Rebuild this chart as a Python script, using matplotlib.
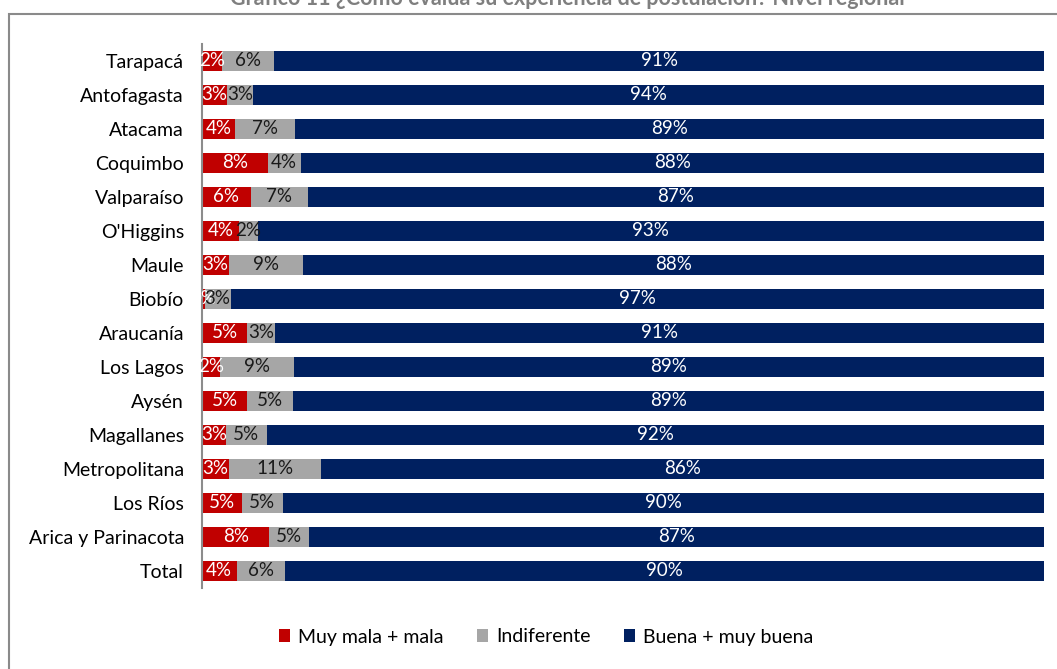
import matplotlib
matplotlib.use("Agg")
import matplotlib.pyplot as plt
from matplotlib.patches import Rectangle
import numpy as np

plt.rcParams['font.family'] = ['Lato', 'DejaVu Sans']

regions = ["Tarapacá", "Antofagasta", "Atacama", "Coquimbo", "Valparaíso",
           "O'Higgins", "Maule", "Biobío", "Araucanía", "Los Lagos", "Aysén",
           "Magallanes", "Metropolitana", "Los Ríos", "Arica y Parinacota", "Total"]
mala = [2.4, 3.0, 3.9, 7.8, 5.8, 4.4, 3.2, 0.3, 5.4, 2.1, 5.4, 2.8, 3.2, 4.7, 8.0, 4.1]
indiferente = [6.2, 3.1, 7.1, 3.9, 6.8, 2.2, 8.8, 3.1, 3.3, 8.8, 5.4, 4.9, 10.9, 4.9, 4.7, 5.7]
buena = [91.4, 93.9, 89.0, 88.3, 87.4, 93.4, 88.0, 96.6, 91.3, 89.1, 89.2, 92.3, 85.9, 90.4, 87.3, 90.2]

series = [("Muy mala + mala", mala, "#C00000", "white"),
          ("Indiferente", indiferente, "#A6A6A6", "#1a1a1a"),
          ("Buena + muy buena", buena, "#002060", "white")]

W, H = 1057, 669
fig = plt.figure(figsize=(W / 100, H / 100), dpi=100)
ax = fig.add_axes([202 / W, 1 - 588 / H, 842 / W, 544 / H])

y = np.arange(len(regions))
left = np.zeros(len(regions))
for name, vals, color, tcolor in series:
    vals = np.array(vals)
    ax.barh(y, vals, left=left, height=0.56, color=color, label=name)
    for yi, l, v in zip(y, left, vals):
        ax.text(l + v / 2, yi, f"{v:.0f}%", ha="center", va="center",
                color=tcolor, fontsize=13.5)
    left += vals

ax.set_xlim(0, 100)
ax.set_ylim(len(regions) - 0.5, -0.5)
ax.set_yticks(y)
ax.set_yticklabels(regions, fontsize=14)
ax.tick_params(axis="y", length=0, pad=13)
ax.set_xticks([])
for s in ["top", "right", "bottom"]:
    ax.spines[s].set_visible(False)
ax.spines["left"].set_color("#8c8c8c")
ax.spines["left"].set_linewidth(1.5)

# outer frame, cut by the image edges
fig.patches.append(Rectangle((9 / W, -0.1), 1.2, 1 - 14 / H + 0.1,
                             transform=fig.transFigure, fill=False,
                             edgecolor="#8a8a8a", linewidth=1.5))

fig.text(567 / W, 1 - 5 / H, "Gráfico 11 ¿Cómo evalúa su experiencia de postulación? Nivel regional",
         ha="center", va="baseline", fontsize=15.5, fontweight="bold", color="#7f7f7f")

fig.legend(loc="center", bbox_to_anchor=(546 / W, 1 - 637 / H), ncol=3,
           frameon=False, fontsize=14, handlelength=0.6, handleheight=0.6,
           handletextpad=0.4, columnspacing=1.7)

fig.savefig("out.png", dpi=100)
